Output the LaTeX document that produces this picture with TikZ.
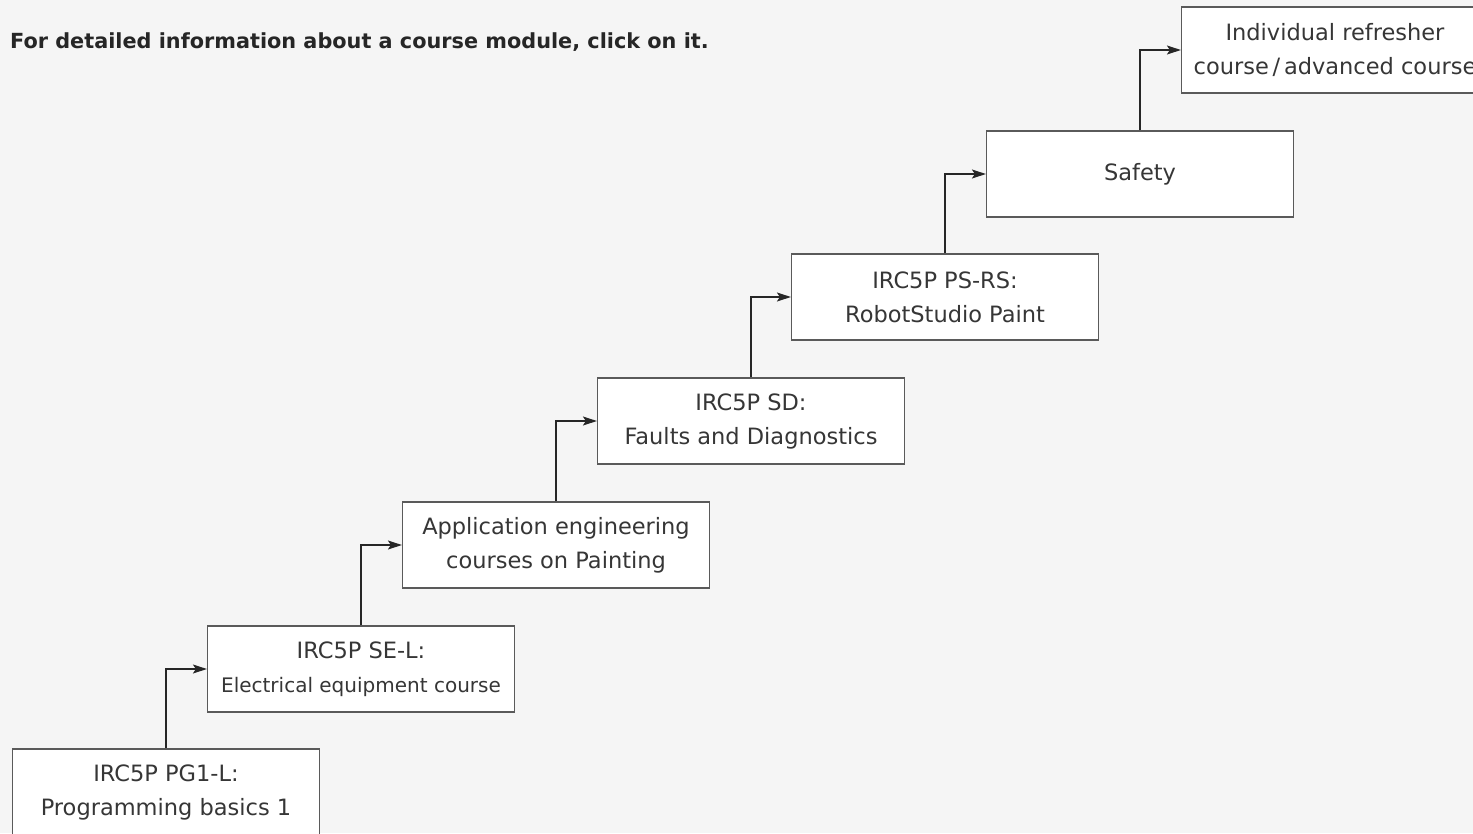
\documentclass[tikz,border=0pt]{standalone}
\usepackage{fontspec}
\setmainfont{DejaVu Sans}
\usetikzlibrary{arrows.meta}

\definecolor{pagebg}{HTML}{F5F5F5}
\definecolor{boxline}{HTML}{5A5A5A}
\definecolor{inkgray}{HTML}{262626}
\definecolor{labelgray}{HTML}{363636}

\tikzset{
  course/.style={draw=boxline, fill=white, line width=1.2pt,
    minimum width=307pt, minimum height=86pt, inner sep=0pt,
    align=center, text=labelgray, font=\fontsize{22.5}{34}\selectfont},
  stepline/.style={draw=inkgray, line width=1.2pt,
    -{Stealth[length=14pt,width=9pt,inset=3pt]}}
}

\begin{document}
\begin{tikzpicture}[x=1pt,y=-1pt]
  \fill[pagebg] (0,0) rectangle (1473,833);
  \clip (0,0) rectangle (1473,833);
  % hint line at the top
  \node[anchor=base west, inner sep=0pt, text=inkgray, font=\bfseries\fontsize{20.8}{25}\selectfont]
    (hint) at (10,48) {For detailed information about a course module, click on it.};
  % the course modules, one step up and right each
  \node[course] (c1) at (166,792) {IRC5P PG1-L:\\Programming basics 1};
  \node[course] (c2) at (361,669) {IRC5P SE-L:\\{\fontsize{20}{34}\selectfont Electrical equipment course}};
  \node[course] (c3) at (556,545) {Application engineering\\courses on Painting};
  \node[course] (c4) at (751,421) {IRC5P SD:\\Faults and Diagnostics};
  \node[course] (c5) at (945,297) {IRC5P PS-RS:\\RobotStudio Paint};
  \node[course] (c6) at (1140,174) {Safety};
  \node[course] (c7) at (1335,50) {Individual refresher\\course\,/\,advanced course};
  % connectors: up from a box, then right into the next one
  \foreach \a/\b in {1/2,2/3,3/4,4/5,5/6,6/7}
    \draw[stepline] (c\a.north) |- (c\b.west);
\end{tikzpicture}
\end{document}
